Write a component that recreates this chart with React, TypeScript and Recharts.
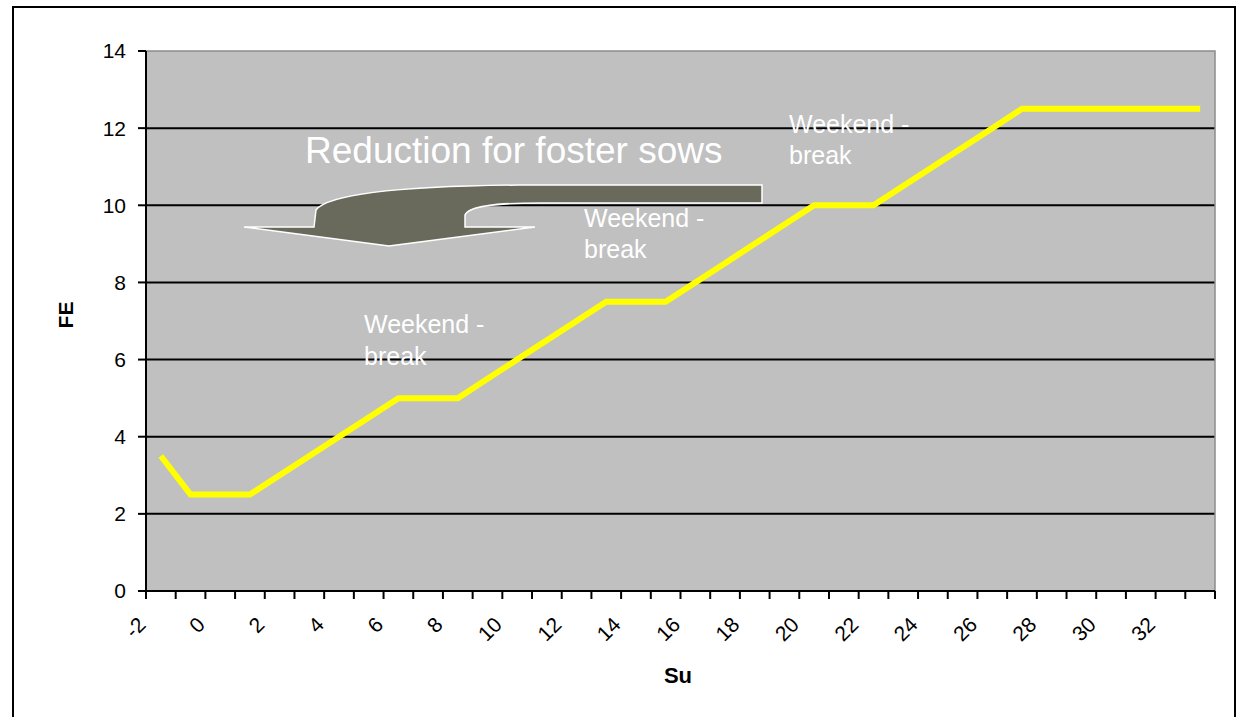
import React from "react";
import { LineChart, Line, XAxis, YAxis, CartesianGrid, Customized } from "recharts";

// Su (days) and feed units per day
const su = [-2, -1, 0, 1, 2, 3, 4, 5, 6, 7, 8, 9, 10, 11, 12, 13, 14, 15, 16, 17, 18, 19, 20, 21, 22, 23, 24, 25, 26, 27, 28, 29, 30, 31, 32, 33];
const fe = [3.5, 2.5, 2.5, 2.5, 3, 3.5, 4, 4.5, 5, 5, 5, 5.5, 6, 6.5, 7, 7.5, 7.5, 7.5, 8, 8.5, 9, 9.5, 10, 10, 10, 10.5, 11, 11.5, 12, 12.5, 12.5, 12.5, 12.5, 12.5, 12.5, 12.5];

const xTickLabels = ["-2", "0", "2", "4", "6", "8", "10", "12", "14", "16", "18", "20", "22", "24", "26", "28", "30", "32"];
const yTicks = [0, 2, 4, 6, 8, 10, 12, 14];
const gridValues = [2, 4, 6, 8, 10, 12];

const data = su.map((s, i) => ({ su: s, fe: fe[i] }));

// tick marks sit on the category boundaries
const xTicks = [...su.map((s) => s - 0.5), su[su.length - 1] + 0.5];

const FONT = "'Liberation Sans', Arial, sans-serif";

function XTick({ x, y, payload }: any) {
  const label = String(payload.value + 0.5);
  if (!xTickLabels.includes(label)) return null;
  const ax = x + 1;
  const ay = y + 25;
  return (
    <text
      x={ax}
      y={ay}
      transform={`rotate(-45, ${ax}, ${ay})`}
      textAnchor="end"
      fontSize={21}
      fontFamily={FONT}
      fill="#000"
    >
      {label}
    </text>
  );
}

function Annotations() {
  const white = { fill: "#fff", fontFamily: FONT };
  return (
    <g>
      <rect x={132} y={43} width={1069} height={540} fill="none" stroke="#8c8c8c" strokeWidth={1.5} />
      <path
        d="M748,177 L506,177 C406,178 316,184 302,202 L300,219 L230,219 L375,238 L521,219 L451,219 L451,207 C454,198 481,195 526,195 L748,195 Z"
        fill="#6a6a5c"
        stroke="#fff"
        strokeWidth={1.5}
      />
      <text x={291} y={155} fontSize={37} {...white}>Reduction for foster sows</text>
      <text x={350} y={325} fontSize={25} {...white}>Weekend -</text>
      <text x={350} y={357} fontSize={25} {...white}>break</text>
      <text x={570} y={219} fontSize={25} {...white}>Weekend -</text>
      <text x={570} y={250} fontSize={25} {...white}>break</text>
      <text x={775} y={125} fontSize={25} {...white}>Weekend -</text>
      <text x={775} y={156} fontSize={25} {...white}>break</text>
      <text
        x={51}
        y={307}
        transform="rotate(-90, 51, 307)"
        textAnchor="middle"
        dominantBaseline="central"
        fontSize={21}
        fontWeight="bold"
        fontFamily={FONT}
        fill="#000"
      >
        FE
      </text>
      <text x={664} y={675} textAnchor="middle" fontSize={22} fontWeight="bold" fontFamily={FONT} fill="#000">
        Su
      </text>
    </g>
  );
}

export default function App() {
  return (
    <div
      style={{
        position: "absolute",
        left: 12,
        top: 6,
        width: 1220,
        height: 720,
        border: "2px solid #000",
        background: "#fff",
      }}
    >
      <LineChart width={1220} height={709} data={data} margin={{ top: 43, right: 19, left: 0, bottom: 36 }}>
        <CartesianGrid
          vertical={false}
          horizontalValues={gridValues}
          stroke="#000"
          strokeWidth={2}
          fill="#c0c0c0"
          fillOpacity={1}
        />
        <Customized component={<Annotations />} />
        <XAxis
          dataKey="su"
          type="number"
          domain={[-2.5, 33.5]}
          ticks={xTicks}
          interval={0}
          height={90}
          stroke="#000"
          strokeWidth={2}
          tickSize={8}
          tickMargin={2}
          tick={<XTick />}
          allowDecimals
        />
        <YAxis
          type="number"
          domain={[0, 14]}
          ticks={yTicks}
          interval={0}
          width={132}
          stroke="#000"
          strokeWidth={2}
          tickSize={8}
          tickMargin={12}
          tick={{ fill: "#000", fontSize: 21, fontFamily: FONT }}
        />
        <Line
          dataKey="fe"
          stroke="#ffff00"
          strokeWidth={6}
          dot={false}
          activeDot={false}
          isAnimationActive={false}
          strokeLinejoin="miter"
        />
      </LineChart>
    </div>
  );
}
